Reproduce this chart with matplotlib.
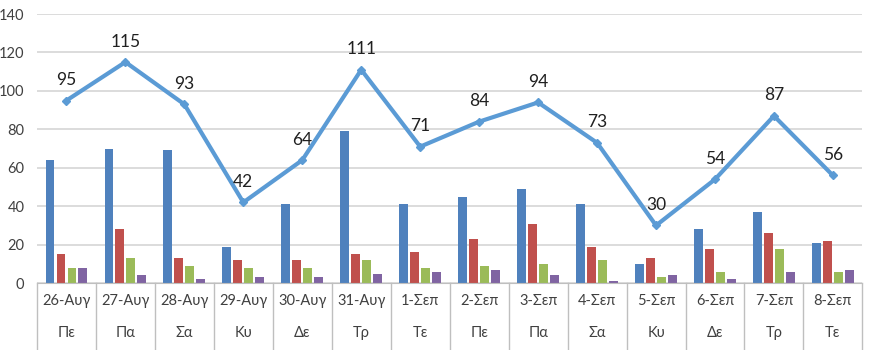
import numpy as np
import matplotlib
matplotlib.use("Agg")
import matplotlib.pyplot as plt
import matplotlib.transforms as mtrans

plt.rcParams['font.family'] = ['Lato', 'DejaVu Sans']

dates = ["26-Αυγ", "27-Αυγ", "28-Αυγ", "29-Αυγ", "30-Αυγ", "31-Αυγ", "1-Σεπ",
         "2-Σεπ", "3-Σεπ", "4-Σεπ", "5-Σεπ", "6-Σεπ", "7-Σεπ", "8-Σεπ"]
days = ["Πε", "Πα", "Σα", "Κυ", "Δε", "Τρ", "Τε", "Πε", "Πα", "Σα", "Κυ", "Δε", "Τρ", "Τε"]

blue = [64, 70, 69, 19, 41, 79, 41, 45, 49, 41, 10, 28, 37, 21]
red = [15, 28, 13, 12, 12, 15, 16, 23, 31, 19, 13, 18, 26, 22]
green = [8, 13, 9, 8, 8, 12, 8, 9, 10, 12, 3, 6, 18, 6]
purple = [8, 4, 2, 3, 3, 5, 6, 7, 4, 1, 4, 2, 6, 7]
total = [95, 115, 93, 42, 64, 111, 71, 84, 94, 73, 30, 54, 87, 56]

fig = plt.figure(figsize=(8.8, 3.5), dpi=100)
ax = fig.add_axes([0.042, 0.191, 0.938, 0.769])

x = np.arange(len(dates))
step = 0.186
w = 0.15
cols = ["#4F81BD", "#C0504D", "#9BBB59", "#8064A2"]
for k, (vals, c) in enumerate(zip([blue, red, green, purple], cols)):
    ax.bar(x + (k - 1.5) * step, vals, width=w, color=c, zorder=2)

ax.plot(x, total, color="#5B9BD5", lw=3, marker="D", ms=4, zorder=3)
for xi, v in zip(x, total):
    ax.annotate(str(v), (xi, v), xytext=(0, 9), textcoords="offset points",
                ha="center", va="bottom", fontsize=12.5, color="#202020")

ax.set_xlim(-0.5, len(dates) - 0.5)
ax.set_ylim(0, 140)
ax.set_yticks(range(0, 141, 20))
ax.tick_params(axis="y", length=0, labelsize=10.5, colors="#404040", pad=9)
ax.grid(axis="y", color="#D9D9D9", lw=1.3, zorder=0)
ax.set_axisbelow(True)
for s in ["top", "right", "left"]:
    ax.spines[s].set_visible(False)
ax.spines["bottom"].set_color("#BFBFBF")
ax.set_xticks([])

tr = mtrans.blended_transform_factory(ax.transData, ax.transAxes)
for b in np.arange(-0.5, len(dates), 1.0):
    ax.plot([b, b], [0, -0.245], color="#BFBFBF", lw=1, transform=tr, clip_on=False)
for xi, d, dd in zip(x, dates, days):
    ax.text(xi, -0.065, d, transform=tr, ha="center", va="center", fontsize=10.5, color="#404040")
    ax.text(xi, -0.185, dd, transform=tr, ha="center", va="center", fontsize=10.5, color="#404040")

fig.savefig("out.png", dpi=100)
